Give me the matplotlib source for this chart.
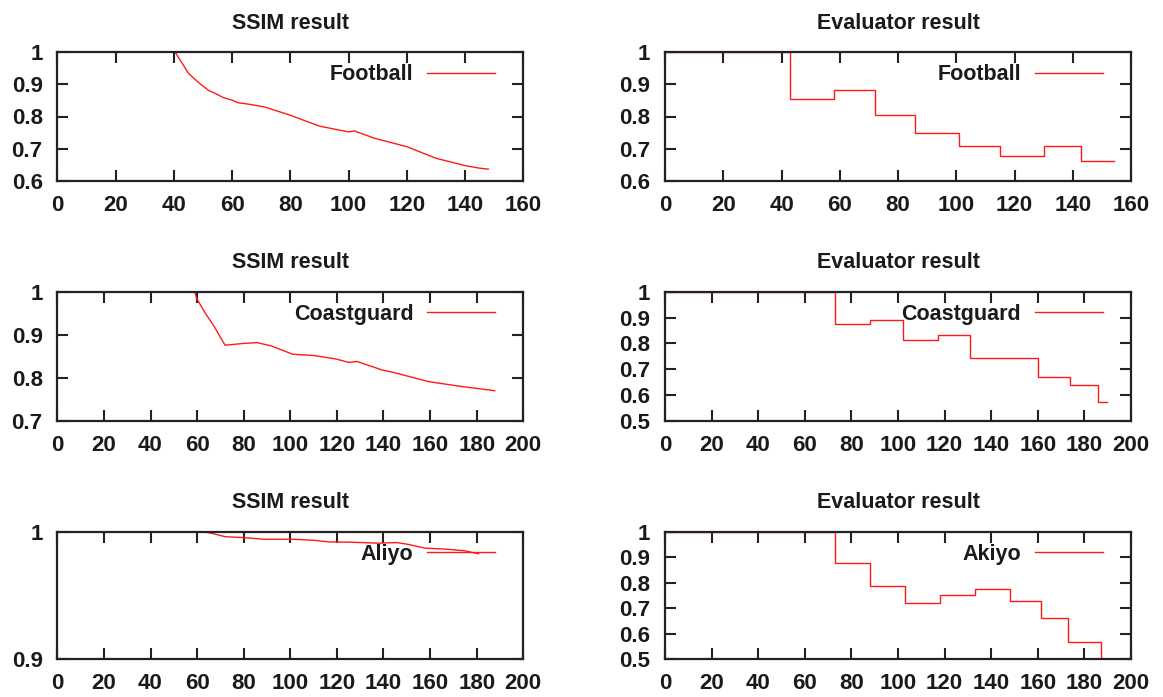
import matplotlib
matplotlib.use("Agg")
import matplotlib.pyplot as plt

plt.rcParams['font.family'] = ['Liberation Sans', 'DejaVu Sans']

# ---------------- data ----------------
football_ssim_x = [0, 40, 40.5, 45, 47, 49, 52, 54, 57, 60, 62, 66, 71, 80, 90, 100, 102, 109, 120, 130, 140, 145, 148]
football_ssim_y = [1.0, 1.0, 1.0, 0.935, 0.918, 0.902, 0.881, 0.873, 0.859, 0.851, 0.843, 0.838, 0.830, 0.804,
                   0.770, 0.752, 0.755, 0.732, 0.706, 0.670, 0.647, 0.639, 0.636]

football_eval_x = [0, 43, 58, 72, 86, 101, 115, 130, 143, 154]
football_eval_y = [1.0, 0.854, 0.884, 0.804, 0.750, 0.708, 0.677, 0.708, 0.661, 0.661]

coast_ssim_x = [0, 59, 59.8, 63.6, 67.4, 72, 79.7, 85.8, 92, 101, 110, 119.5, 125, 128.7, 139.5, 144, 159.4, 173.2, 187.7]
coast_ssim_y = [1.0, 1.0, 0.985, 0.950, 0.919, 0.876, 0.880, 0.882, 0.874, 0.855, 0.852, 0.844, 0.836, 0.838,
                0.818, 0.813, 0.791, 0.780, 0.770]

coast_eval_x = [0, 73, 88, 102, 117, 131, 160, 174, 186, 189.6]
coast_eval_y = [1.0, 0.875, 0.893, 0.813, 0.834, 0.745, 0.671, 0.637, 0.572, 0.572]

akiyo_ssim_x = [0, 62.8, 67.4, 72, 79.7, 89, 101, 110, 116.5, 125.7, 137.9, 145.6, 150.2, 157.9, 167, 174.7, 180.8]
akiyo_ssim_y = [1.0, 1.0, 0.9982, 0.9961, 0.9954, 0.9941, 0.9941, 0.9933, 0.9920, 0.9918, 0.9910, 0.9915,
                0.9902, 0.9871, 0.9863, 0.9851, 0.9827]

akiyo_eval_x = [0, 73, 88, 103, 118, 133, 148, 161.5, 173, 187]
akiyo_eval_y = [1.0, 0.878, 0.787, 0.720, 0.751, 0.777, 0.730, 0.663, 0.568, 0.5]

labels = ["Football", "Coastguard", "Aliyo", "Akiyo"]

W, H = 1163, 697
fig = plt.figure(figsize=(W / 100, H / 100), dpi=100)

def px_axes(x0, x1, y0, y1):
    ax = fig.add_axes([x0 / W, 1 - y1 / H, (x1 - x0) / W, (y1 - y0) / H])
    ax._pxw = x1 - x0
    ax._pxh = y1 - y0
    return ax

FS_TICK = 16
FS_TITLE = 15.5
FS_LEG = 15.5
TXT = '#1a1a1a'

def style(ax, title, xlim, xticks, ylim, yticks, yticklabels):
    ax.set_xlim(*xlim)
    ax.set_ylim(*ylim)
    ax.set_xticks(xticks)
    ax.set_xticklabels([str(t) for t in xticks])
    ax.set_yticks(yticks)
    ax.set_yticklabels(yticklabels)
    ax.tick_params(direction='in', length=8, width=1.5, top=True, right=True,
                   labelsize=FS_TICK, colors='#222222', labelcolor=TXT)
    ax.tick_params(axis='y', pad=10.5)
    ax.tick_params(axis='x', pad=10)
    for lab in ax.get_xticklabels() + ax.get_yticklabels():
        lab.set_fontweight('bold')
    for s in ax.spines.values():
        s.set_linewidth(1.6)
        s.set_color('#222222')
    ax.set_title(title, fontsize=FS_TITLE, fontweight='bold', color=TXT, pad=17)

def legend(ax, line, label):
    fs_px = FS_LEG * 100 / 72
    ax.legend([line], [label], loc='center right', frameon=False, markerfirst=False,
              handlelength=68 / fs_px, handletextpad=14 / fs_px, borderpad=0, borderaxespad=0,
              bbox_to_anchor=(1 - 28 / ax._pxw, 1 - 22.5 / ax._pxh),
              prop={'size': FS_LEG, 'weight': 'bold'}, labelcolor=TXT)

RED = '#ff1a1a'
LW = 1.0

LC = (57.3, 523.3)
RC = (665, 1131)
rows = [(52.3, 180.7), (292, 420.7), (531.7, 659.3)]

# Row 1
ax = px_axes(*LC, *rows[0])
l, = ax.plot(football_ssim_x, football_ssim_y, color=RED, lw=LW)
style(ax, "SSIM result", (0, 160), list(range(0, 161, 20)), (0.6, 1.0),
      [0.6, 0.7, 0.8, 0.9, 1.0], ['0.6', '0.7', '0.8', '0.9', '1'])
legend(ax, l, labels[0])

ax = px_axes(*RC, *rows[0])
l, = ax.plot(football_eval_x, football_eval_y, color=RED, lw=LW, drawstyle='steps-post')
style(ax, "Evaluator result", (0, 160), list(range(0, 161, 20)), (0.6, 1.0),
      [0.6, 0.7, 0.8, 0.9, 1.0], ['0.6', '0.7', '0.8', '0.9', '1'])
legend(ax, l, labels[0])

# Row 2
ax = px_axes(*LC, *rows[1])
l, = ax.plot(coast_ssim_x, coast_ssim_y, color=RED, lw=LW)
style(ax, "SSIM result", (0, 200), list(range(0, 201, 20)), (0.7, 1.0),
      [0.7, 0.8, 0.9, 1.0], ['0.7', '0.8', '0.9', '1'])
legend(ax, l, labels[1])

ax = px_axes(*RC, *rows[1])
l, = ax.plot(coast_eval_x, coast_eval_y, color=RED, lw=LW, drawstyle='steps-post')
style(ax, "Evaluator result", (0, 200), list(range(0, 201, 20)), (0.5, 1.0),
      [0.5, 0.6, 0.7, 0.8, 0.9, 1.0], ['0.5', '0.6', '0.7', '0.8', '0.9', '1'])
legend(ax, l, labels[1])

# Row 3
ax = px_axes(*LC, *rows[2])
l, = ax.plot(akiyo_ssim_x, akiyo_ssim_y, color=RED, lw=LW)
style(ax, "SSIM result", (0, 200), list(range(0, 201, 20)), (0.9, 1.0),
      [0.9, 1.0], ['0.9', '1'])
legend(ax, l, labels[2])

ax = px_axes(*RC, *rows[2])
l, = ax.plot(akiyo_eval_x, akiyo_eval_y, color=RED, lw=LW, drawstyle='steps-post')
style(ax, "Evaluator result", (0, 200), list(range(0, 201, 20)), (0.5, 1.0),
      [0.5, 0.6, 0.7, 0.8, 0.9, 1.0], ['0.5', '0.6', '0.7', '0.8', '0.9', '1'])
legend(ax, l, labels[3])

fig.savefig("out.png", dpi=100)
